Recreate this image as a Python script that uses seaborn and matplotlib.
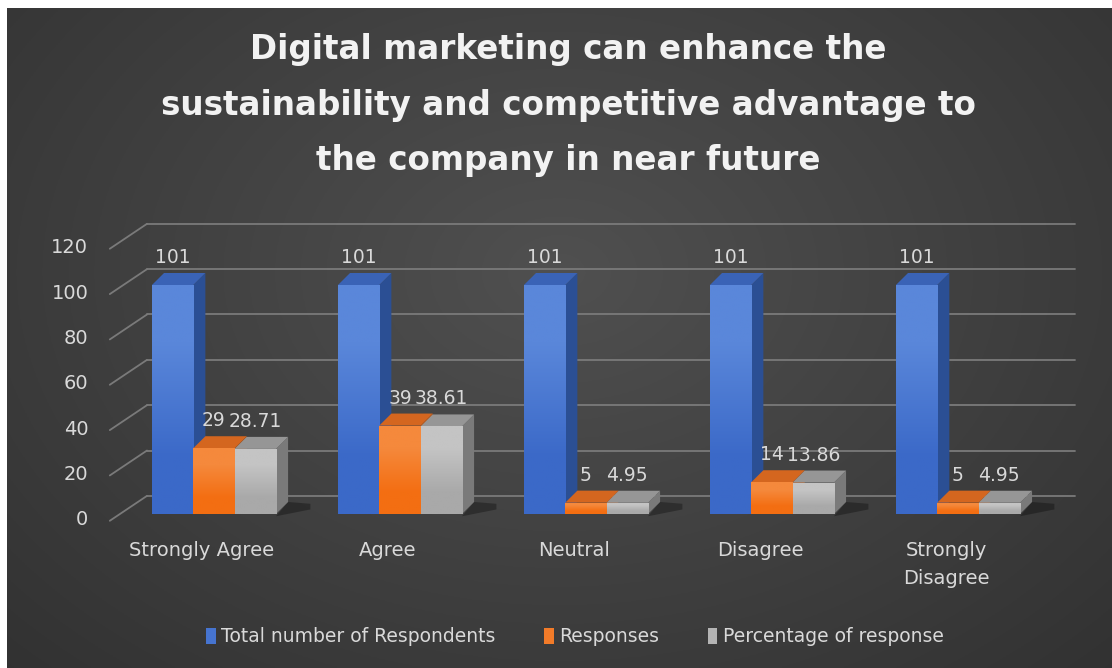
import numpy as np
import pandas as pd
import matplotlib.pyplot as plt
import seaborn as sns
from matplotlib.patches import Polygon, Patch
from matplotlib.colors import to_rgb
from matplotlib.transforms import ScaledTranslation

# survey data
categories = ["Strongly Agree", "Agree", "Neutral", "Disagree", "Strongly Disagree"]
tick_labels = ["Strongly Agree", "Agree", "Neutral", "Disagree", "Strongly\nDisagree"]
series_names = ["Total number of Respondents", "Responses", "Percentage of response"]
total_respondents = [101, 101, 101, 101, 101]
responses = [29, 39, 5, 14, 5]
percentage = [28.71, 38.61, 4.95, 13.86, 4.95]
y_ticks = [0, 20, 40, 60, 80, 100, 120]

title = ("Digital marketing can enhance the\n"
         "sustainability and competitive advantage to\n"
         "the company in near future")

front_colors = ["#4674d0", "#f27b29", "#b4b4b4"]
front_top = ["#5a87da", "#f5893c", "#c4c4c4"]
front_bottom = ["#3b69c8", "#f36e12", "#a9a9a9"]
side_colors = ["#2b4f94", "#b95817", "#7a7a7a"]
top_colors = ["#3a63b6", "#d4661f", "#969696"]
text_color = "#d9d9d9"
grid_color = "#7a7a7a"

df = pd.DataFrame({
    "category": categories * 3,
    "series": np.repeat(series_names, len(categories)),
    "value": total_respondents + responses + percentage,
})

sns.set_theme(style="dark")
plt.rcParams["font.family"] = ["DejaVu Sans"]

fig = plt.figure(figsize=(11.12, 6.68), dpi=100, facecolor="white")

# dark radial gradient background like the Excel chart area
bg = fig.add_axes([0, 0, 1, 1], zorder=0)
yy, xx = np.mgrid[0:1:300j, 0:1:500j]
d = np.clip(np.sqrt(((xx - 0.5) / 0.75) ** 2 + ((yy - 0.6) / 0.9) ** 2), 0, 1)
c_in = np.array([0x50, 0x50, 0x50]) / 255
c_out = np.array([0x30, 0x30, 0x30]) / 255
img = c_in[None, None, :] * (1 - d[..., None]) + c_out[None, None, :] * d[..., None]
bg.imshow(img, extent=[7 / 1112, 1, 0, 1 - 8 / 668], origin="lower", aspect="auto")
bg.set_xlim(0, 1)
bg.set_ylim(0, 1)
bg.axis("off")

ax = fig.add_axes([0.0944, 0.2066, 0.8813, 0.4716], zorder=1)
ax.set_facecolor("none")

sns.barplot(data=df, x="category", y="value", hue="series", order=categories,
            hue_order=series_names, palette=front_colors, width=0.667,
            saturation=1, legend=False, ax=ax)

# fake 3D: side and top faces for every bar, shaded front
dx, dy = 0.065, 5.3
for i, cont in enumerate(ax.containers):
    z = 3 + i * 0.1
    grad = np.array([to_rgb(front_bottom[i]), to_rgb(front_top[i])])[:, None, :]
    for bar in cont:
        x0, w, h = bar.get_x(), bar.get_width(), bar.get_height()
        bar.set_edgecolor("none")
        bar.set_zorder(z + 0.05)
        im = ax.imshow(grad, extent=[x0, x0 + w, 0, h], origin="lower", aspect="auto",
                       interpolation="bilinear", zorder=z + 0.06)
        im.set_clip_path(bar)
        ax.add_patch(Polygon([(x0 + w, 0), (x0 + w + dx, dy), (x0 + w + dx, h + dy), (x0 + w, h)],
                             closed=True, fc=side_colors[i], ec="none", zorder=z))
        ax.add_patch(Polygon([(x0, h), (x0 + w, h), (x0 + w + dx, h + dy), (x0 + dx, h + dy)],
                             closed=True, fc=top_colors[i], ec="none", zorder=z))
        if i == len(ax.containers) - 1:
            # soft floor shadow to the right of each group
            ax.add_patch(Polygon([(x0 + w, -1), (x0 + w + dx + 0.12, 2), (x0 + w + dx + 0.12, 4.5),
                                  (x0 + w + dx, dy)],
                                 closed=True, fc="black", ec="none", alpha=0.3, zorder=2))
    labels = ax.bar_label(cont, fmt="{:g}", padding=13, color=text_color, fontsize=13.5)
    for t in labels:
        t.set_zorder(10)

# back wall gridlines plus the slanted side-wall lines
for v in y_ticks:
    ax.plot([-0.36, 4.63], [v + 8, v + 8], color=grid_color, lw=1.3, zorder=1)
    ax.plot([-0.56, -0.36], [v - 3, v + 8], color=grid_color, lw=1.3, zorder=1)

ax.set_xlim(-0.586, 4.683)
ax.set_ylim(-7.06, 131.9)
ax.set_yticks(y_ticks)
ax.set_xticks(range(len(categories)))
ax.set_xticklabels(tick_labels)
ax.set_xlabel("")
ax.set_ylabel("")
ax.grid(False)
for s in ax.spines.values():
    s.set_visible(False)
ax.tick_params(axis="both", length=0, colors=text_color, labelsize=14)
ax.tick_params(axis="y", pad=12)
ax.tick_params(axis="x", pad=8)

shift_x = ScaledTranslation(-12 / 100, 0, fig.dpi_scale_trans)
for lab in ax.get_xticklabels():
    lab.set_transform(lab.get_transform() + shift_x)
    lab.set_linespacing(1.6)
shift_y = ScaledTranslation(0, -4 / 100, fig.dpi_scale_trans)
for lab in ax.get_yticklabels():
    lab.set_transform(lab.get_transform() + shift_y)

fig.text(568 / 1112, 1 - 105 / 668, title, ha="center", va="center", fontsize=23.5,
         fontweight="bold", color="#f2f2f2", linespacing=1.88)

handles = [Patch(facecolor=c, edgecolor="none") for c in front_colors]
fig.legend(handles, series_names, loc="center", bbox_to_anchor=(575 / 1112, 1 - 637 / 668),
           ncol=3, frameon=False, fontsize=13.5, labelcolor=text_color,
           handlelength=0.5, handleheight=0.9, handletextpad=0.3, columnspacing=2.6)

fig.savefig("out.png", dpi=100)
